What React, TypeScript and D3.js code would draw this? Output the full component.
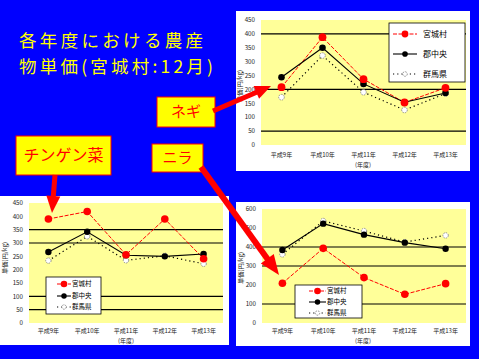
import React from "react";
import * as d3 from "d3";

const years = ["平成9年", "平成10年", "平成11年", "平成12年", "平成13年"];
const seriesNames = ["宮城村", "郡中央", "群馬県"];

const negiMiyagi = [208, 388, 237, 153, 206];
const negiGunchuo = [244, 350, 220, 154, 187];
const negiGunma = [172, 322, 190, 126, 185];
const negiTicks = [0, 50, 100, 150, 200, 250, 300, 350, 400, 450];
const negiGrid = [50, 200, 400];

const chinMiyagi = [390, 418, 256, 390, 241];
const chinGunchuo = [266, 342, 254, 250, 259];
const chinGunma = [234, 325, 235, 252, 222];
const chinTicks = [0, 50, 100, 150, 200, 250, 300, 350, 400, 450];
const chinGrid = [50, 100, 300, 350];

const niraMiyagi = [209, 393, 239, 151, 207];
const niraGunchuo = [384, 523, 465, 423, 391];
const niraGunma = [361, 537, 484, 426, 461];
const niraTicks = [0, 100, 200, 300, 400, 500, 600];
const niraGrid = [100, 300, 400];

const BLUE = "#0000FF";
const PLOT_BG = "#FFFF99";
const FONT = "'Noto Sans CJK JP', sans-serif";

type Kind = "red" | "black" | "dot";
type Ser = { name: string; values: number[]; kind: Kind };

function Marker({ x, y, kind, r }: { x: number; y: number; kind: Kind; r: number }) {
  if (kind === "red") return <circle cx={x} cy={y} r={r + 0.6} fill="#FF0000" />;
  if (kind === "black") return <circle cx={x} cy={y} r={r} fill="#000" />;
  return <circle cx={x} cy={y} r={r - 0.5} fill="#fff" stroke="#777" strokeWidth={0.8} strokeDasharray="1.5,1" />;
}

function lineStyle(kind: Kind) {
  if (kind === "red") return { stroke: "#FF0000", strokeWidth: 1, strokeDasharray: "4,1.5" };
  if (kind === "black") return { stroke: "#000", strokeWidth: 1.1, strokeDasharray: undefined };
  return { stroke: "#000", strokeWidth: 1.2, strokeDasharray: "1.2,3" };
}

type ChartProps = {
  panel: [number, number, number, number];
  plot: [number, number, number, number];
  yMax: number;
  ticks: number[];
  grid: number[];
  series: Ser[];
  legend: { x: number; y: number; w: number; h: number; rows: number[]; lx: number; tx: number; font: number; lineW: number };
  tickEnd: number;
  xLabY: number;
  unitY: number;
  unitX: number;
  yLabelX: number;
  yLabelY: number;
  mr: number;
};

function Chart(p: ChartProps) {
  const [x0, y0, x1, y1] = p.plot;
  const x = d3.scaleBand().domain(years).range([x0, x1]);
  const cx = (d: string) => (x(d) as number) + x.bandwidth() / 2;
  const y = d3.scaleLinear().domain([0, p.yMax]).range([y1, y0]);
  const line = d3
    .line<number>()
    .x((_, i) => cx(years[i]))
    .y((v) => y(v));
  const lg = p.legend;
  return (
    <g>
      <rect x={p.panel[0]} y={p.panel[1]} width={p.panel[2]} height={p.panel[3]} fill="#fff" />
      <rect x={x0} y={y0} width={x1 - x0} height={y1 - y0} fill={PLOT_BG} />
      {p.grid.map((g) => (
        <line key={g} x1={x0} x2={x1} y1={y(g)} y2={y(g)} stroke="#000" strokeWidth={1.2} />
      ))}
      {p.ticks.map((t) => (
        <text key={t} x={p.tickEnd} y={y(t) + 2.2} fontSize={6.2} textAnchor="end" fontFamily={FONT} fill="#222">
          {t}
        </text>
      ))}
      {years.map((yr) => (
        <text key={yr} x={cx(yr)} y={p.xLabY} fontSize={6} textAnchor="middle" fontFamily={FONT} fill="#222">
          {yr}
        </text>
      ))}
      <text x={p.unitX} y={p.unitY} fontSize={6} textAnchor="middle" fontFamily={FONT} fill="#222">
        (年度)
      </text>
      <text
        transform={`translate(${p.yLabelX},${p.yLabelY}) rotate(-90)`}
        fontSize={6.2}
        textAnchor="middle"
        fontFamily={FONT}
        fill="#222"
      >
        単価(円/kg)
      </text>
      {p.series.map((s) => {
        const st = lineStyle(s.kind);
        return (
          <path
            key={s.name}
            d={line(s.values) as string}
            fill="none"
            stroke={st.stroke}
            strokeWidth={st.strokeWidth}
            strokeDasharray={st.strokeDasharray}
          />
        );
      })}
      {[...p.series].reverse().map((s) =>
        s.values.map((v, i) => <Marker key={s.name + i} x={cx(years[i])} y={y(v)} kind={s.kind} r={p.mr} />)
      )}
      <rect x={lg.x} y={lg.y} width={lg.w} height={lg.h} fill="#fff" stroke="#000" strokeWidth={0.8} />
      {p.series.map((s, i) => {
        const st = lineStyle(s.kind);
        const ry = lg.rows[i];
        return (
          <g key={s.name}>
            <line
              x1={lg.lx}
              x2={lg.lx + lg.lineW}
              y1={ry}
              y2={ry}
              stroke={st.stroke}
              strokeWidth={st.strokeWidth}
              strokeDasharray={st.strokeDasharray}
            />
            <Marker x={lg.lx + lg.lineW / 2} y={ry} kind={s.kind} r={p.mr * 0.85} />
            <text x={lg.tx} y={ry + lg.font * 0.38} fontSize={lg.font} fontFamily={FONT} fill="#000">
              {s.name}
            </text>
          </g>
        );
      })}
    </g>
  );
}

function Arrow({ x1, y1, x2, y2, head, hw, w }: { x1: number; y1: number; x2: number; y2: number; head: number; hw: number; w: number }) {
  const dx = x2 - x1;
  const dy = y2 - y1;
  const len = Math.sqrt(dx * dx + dy * dy);
  const ux = dx / len;
  const uy = dy / len;
  const bx = x2 - ux * head;
  const by = y2 - uy * head;
  const px = -uy;
  const py = ux;
  const pts = [
    [x2, y2],
    [bx + px * hw, by + py * hw],
    [bx - px * hw, by - py * hw],
  ]
    .map((q) => q.join(","))
    .join(" ");
  return (
    <g>
      <line x1={x1} y1={y1} x2={bx + ux * 1} y2={by + uy * 1} stroke="#FF0000" strokeWidth={w} />
      <polygon points={pts} fill="#FF0000" />
    </g>
  );
}

function Callout({ x, y, w, h, label, fs }: { x: number; y: number; w: number; h: number; label: string; fs: number }) {
  return (
    <g>
      <rect x={x} y={y} width={w} height={h} fill="#FFFF00" stroke="#FF0000" strokeWidth={1} />
      <text x={x + w / 2} y={y + h / 2 + fs * 0.36} fontSize={fs} textAnchor="middle" fontFamily={FONT} fill="#FF0000">
        {label}
      </text>
    </g>
  );
}

export default function App() {
  const mk = (a: number[], b: number[], c: number[]): Ser[] => [
    { name: seriesNames[0], values: a, kind: "red" },
    { name: seriesNames[1], values: b, kind: "black" },
    { name: seriesNames[2], values: c, kind: "dot" },
  ];
  return (
    <svg
      width={479}
      height={359}
      style={{ position: "fixed", left: 0, top: 0, display: "block" }}
      xmlns="http://www.w3.org/2000/svg"
    >
      <rect x={0} y={0} width={479} height={359} fill={BLUE} />
      <text x={19} y={47} fontSize={17.5} fontFamily={FONT} fill="#FFFF00" textLength={184} lengthAdjust="spacing">
        各年度における農産
      </text>
      <text x={19} y={73} fontSize={17.5} fontFamily={FONT} fill="#FFFF00" textLength={194} lengthAdjust="spacing">
        物単価(宮城村:12月)
      </text>

      <Chart
        panel={[236, 11, 234, 160]}
        plot={[261, 20, 466, 145]}
        yMax={450}
        ticks={negiTicks}
        grid={negiGrid}
        series={mk(negiMiyagi, negiGunchuo, negiGunma)}
        legend={{ x: 389, y: 23, w: 76, h: 59, rows: [34, 54, 74], lx: 393, tx: 423, font: 8, lineW: 24 }}
        tickEnd={255}
        xLabY={157}
        unitY={167}
        unitX={363}
        yLabelX={242}
        yLabelY={86}
        mr={3.3}
      />
      <Chart
        panel={[0, 196, 229, 149]}
        plot={[29, 203, 223, 323]}
        yMax={450}
        ticks={chinTicks}
        grid={chinGrid}
        series={mk(chinMiyagi, chinGunchuo, chinGunma)}
        legend={{ x: 46, y: 277, w: 55, h: 37, rows: [284, 296, 307], lx: 57, tx: 72, font: 6.5, lineW: 14 }}
        tickEnd={23}
        xLabY={333}
        unitY={343}
        unitX={126}
        yLabelX={7}
        yLabelY={258}
        mr={3.2}
      />
      <Chart
        panel={[236, 202, 234, 144]}
        plot={[262, 209, 466, 323]}
        yMax={600}
        ticks={niraTicks}
        grid={niraGrid}
        series={mk(niraMiyagi, niraGunchuo, niraGunma)}
        legend={{ x: 295, y: 285, w: 67, h: 33, rows: [291, 302, 313], lx: 309, tx: 327, font: 6.5, lineW: 17 }}
        tickEnd={256}
        xLabY={333}
        unitY={343}
        unitX={363}
        yLabelX={243}
        yLabelY={268}
        mr={3.2}
      />

      <Callout x={157} y={97} w={58} h={30} label="ネギ" fs={15} />
      <Callout x={16} y={136} w={95} h={39} label="チンゲン菜" fs={16} />
      <Callout x={152} y={144} w={51} h={28} label="ニラ" fs={15} />

      <Arrow x1={213} y1={111} x2={271} y2={86} head={16} hw={7} w={5} />
      <Arrow x1={55} y1={175} x2={52} y2={213} head={17} hw={7} w={5} />
      <Arrow x1={201} y1={167} x2={279} y2={275} head={20} hw={8} w={6} />
    </svg>
  );
}
